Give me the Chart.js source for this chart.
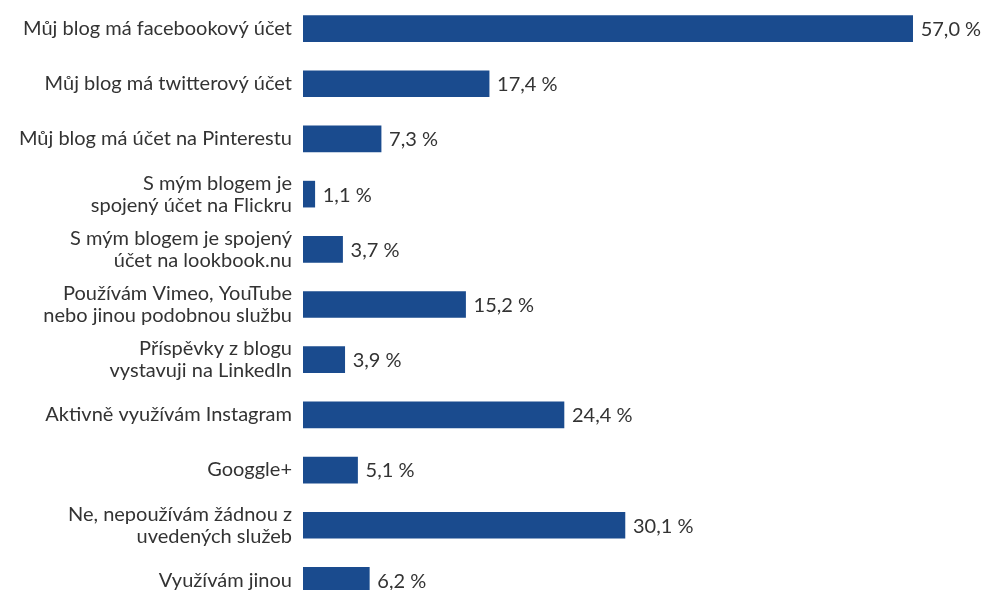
<!DOCTYPE html>
<html lang="cs">
<head>
    <meta charset="UTF-8">
    <title>Sociální sítě blogů</title>
    <script src="https://cdn.jsdelivr.net/npm/chart.js@4.4.4/dist/chart.umd.min.js"></script>
    <style>
        html, body {
            margin: 0;
            padding: 0;
            background: #fff;
            overflow: hidden;
        }
        .chart-container {
            position: relative;
            width: 984px;
            height: 608px;
        }
    </style>
</head>
<body>
    <div class="chart-container">
        <canvas id="chart"></canvas>
    </div>

    <script>
        // Data
        const categories = [
            'Můj blog má facebookový účet',
            'Můj blog má twitterový účet',
            'Můj blog má účet na Pinterestu',
            ['S mým blogem je', 'spojený účet na Flickru'],
            ['S mým blogem je spojený', 'účet na lookbook.nu'],
            ['Používám Vimeo, YouTube', 'nebo jinou podobnou službu'],
            ['Příspěvky z blogu', 'vystavuji na LinkedIn'],
            'Aktivně využívám Instagram',
            'Googgle+',
            ['Ne, nepoužívám žádnou z', 'uvedených služeb'],
            'Využívám jinou'
        ];
        const percentages = [57.0, 17.4, 7.3, 1.1, 3.7, 15.2, 3.9, 24.4, 5.1, 30.1, 6.2];

        const barColor = '#1a4b8e';
        const textColor = '#333333';
        const fontFamily = 'Lato, "Open Sans", sans-serif';

        // Value labels at the end of each bar, Czech decimal comma
        const valueLabels = {
            id: 'valueLabels',
            afterDatasetsDraw(chart) {
                const ctx = chart.ctx;
                const meta = chart.getDatasetMeta(0);
                ctx.save();
                ctx.font = '20px ' + fontFamily;
                ctx.fillStyle = textColor;
                ctx.textAlign = 'left';
                ctx.textBaseline = 'middle';
                meta.data.forEach((bar, i) => {
                    const txt = percentages[i].toFixed(1).replace('.', ',') + ' %';
                    ctx.fillText(txt, bar.x + 8, bar.y + 1);
                });
                ctx.restore();
            }
        };

        new Chart(document.getElementById('chart'), {
            type: 'bar',
            data: {
                labels: categories,
                datasets: [{
                    data: percentages,
                    backgroundColor: barColor,
                    barThickness: 26
                }]
            },
            plugins: [valueLabels],
            options: {
                indexAxis: 'y',
                responsive: true,
                maintainAspectRatio: false,
                animation: false,
                layout: { padding: { top: 1, bottom: 0, left: 0, right: 0 } },
                plugins: {
                    legend: { display: false },
                    tooltip: { enabled: false }
                },
                scales: {
                    x: {
                        display: false,
                        min: 0,
                        max: 63.67
                    },
                    y: {
                        grid: { display: false, drawTicks: false },
                        border: { display: false },
                        ticks: {
                            color: textColor,
                            padding: 11,
                            autoSkip: false,
                            font: { family: fontFamily, size: 20, lineHeight: 1.1 }
                        },
                        afterFit(scale) {
                            scale.width = 303;
                            scale.paddingTop = 0;
                            scale.paddingBottom = 0;
                        }
                    }
                }
            }
        });
    </script>
</body>
</html>
